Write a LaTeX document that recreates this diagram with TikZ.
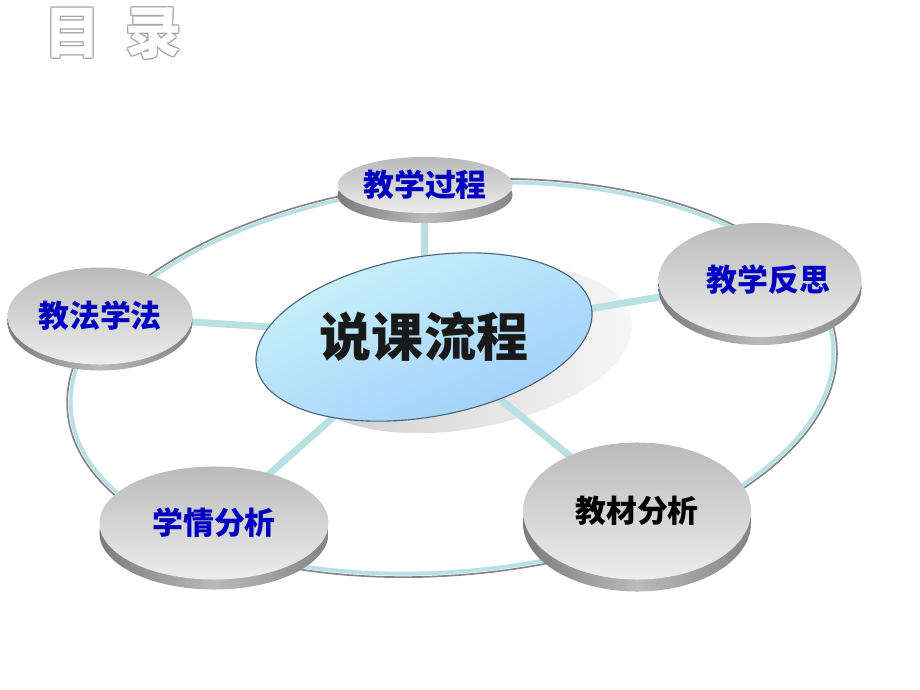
\documentclass[tikz,border=0pt]{standalone}
\usepackage{fontspec}
\newfontfamily\cjk{Noto Sans CJK SC}
\usetikzlibrary{shapes.geometric,backgrounds}
\definecolor{ringteal}{HTML}{B9E0E3}
\definecolor{ringgray}{HTML}{858585}
\definecolor{hubtop}{HTML}{CDF3FA}
\definecolor{hubbot}{HTML}{9CCDFB}
\definecolor{hubedge}{HTML}{4E6578}
\definecolor{lblblue}{HTML}{0000C0}
\tikzset{
  disk/.style={ellipse, inner sep=0pt, top color=black!27, bottom color=black!7,
    preaction={transform canvas={yshift=-#1}, left color=black!52, right color=black!48, middle color=black!27}},
  lbl/.style={font=\cjk\bfseries\fontsize{22pt}{22pt}\selectfont, text=lblblue},
  hub/.style={ellipse, inner sep=0pt, minimum width=8.5cm, minimum height=4cm,
    top color=hubtop, bottom color=hubbot, shading angle=25, draw=hubedge, line width=0.8pt,
    font=\cjk\bfseries\fontsize{37pt}{37pt}\selectfont, text=black!90},
  titletext/.style={font=\cjk\bfseries\fontsize{40pt}{40pt}\selectfont},
  spokeline/.style={ringteal, line width=5pt},
}
\begin{document}
\begin{tikzpicture}[x=0.025cm,y=-0.025cm]
  \useasboundingbox (0,0) rectangle (920,690);
  %% title
  \foreach \dx/\dy in {1/0,-1/0,0/1,0/-1,1/1,-1/-1,1/-1,-1/1}
    \node[titletext, text=black!35] at (113+\dx,33+\dy) {目\hspace{18pt}录};
  \node[titletext, text=white] (title) at (113,33) {目\hspace{18pt}录};
  %% centre
  \node[hub, rotate=10] (hub) at (424,337) {\rotatebox{-10}{说课流程}};
  %% discs
  \node[disk=0.25cm, lbl, minimum width=4.375cm, minimum height=1.4cm] (guocheng) at (425,185) {教学过程};
  \node[disk=0.2cm, lbl, minimum width=5.075cm, minimum height=2.85cm] (fansi) at (760,280) {\hspace{12pt}教学反思};
  \node[disk=0.15cm, lbl, minimum width=4.625cm, minimum height=2.425cm] (jiaofa) at (100,316) {教法学法};
  \node[disk=0.25cm, lbl, minimum width=5.725cm, minimum height=2.825cm] (xueqing) at (214,523) {学情分析};
  \node[disk=0.3cm, lbl, text=black, minimum width=5.7cm, minimum height=3.425cm] (jiaocai) at (637,511) {教材分析};
  \begin{pgfonlayer}{background}
    %% ring
    \draw[ringgray, line width=1.2pt, rotate around={5:(452,378)}] (452,378) ellipse (386 and 197);
    \draw[ringteal, line width=2.8pt, rotate around={5:(452,378)}] (452,378) ellipse (382.5 and 193.5);
    %% shadow of the centre
    \shade[left color=black!20, right color=black!3, rotate around={10:(464,349)}] (464,349) ellipse (170 and 80);
    %% spokes
    \foreach \n in {guocheng,fansi,jiaofa,xueqing,jiaocai}
      \draw[spokeline] (hub.center) -- (\n.center);
  \end{pgfonlayer}
\end{tikzpicture}
\end{document}
